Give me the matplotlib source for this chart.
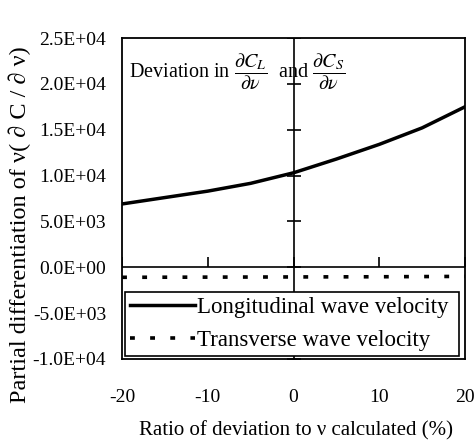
import numpy as np
import matplotlib
matplotlib.use('Agg')
import matplotlib.pyplot as plt

plt.rcParams['font.family'] = ['Liberation Serif', 'DejaVu Serif']
plt.rcParams['mathtext.fontset'] = 'stix'
plt.rcParams['lines.scale_dashes'] = False

# Data
ratio = [-20, -15, -10, -5, 0, 5, 10, 15, 20]
longitudinal = [6900, 7600, 8300, 9150, 10300, 11800, 13400, 15200, 17500]
transverse = [-1100, -1090, -1080, -1070, -1060, -1050, -1040, -1020, -1000]

xticks = [-20, -10, 0, 10, 20]
yticks = [-10000, -5000, 0, 5000, 10000, 15000, 20000, 25000]
ytick_labels = ['-1.0E+04', '-5.0E+03', '0.0E+00', '5.0E+03',
                '1.0E+04', '1.5E+04', '2.0E+04', '2.5E+04']

fig = plt.figure(figsize=(4.75, 4.42), dpi=100)
ax = fig.add_axes([0.257, 0.188, 0.722, 0.726])

ax.set_xlim(-20, 20)
ax.set_ylim(-10000, 25000)
ax.set_xticks(xticks)
ax.set_xticklabels([str(t) for t in xticks])
ax.set_yticks(yticks)
ax.set_yticklabels(ytick_labels)
ax.tick_params(length=0, labelsize=14)
ax.tick_params(axis='y', pad=11.5)
ax.tick_params(axis='x', pad=22)
for s in ax.spines.values():
    s.set_linewidth(1.3)

# axis lines crossing at zero, with their tick marks
ax.axvline(0, color='k', lw=1.2, zorder=1)
ax.axhline(0, color='k', lw=1.2, zorder=1)
ax.plot(np.zeros(len(yticks)), yticks, ls='none', marker='_', ms=10,
        mew=1.2, color='k', zorder=1)
ax.plot(xticks, np.zeros(len(xticks)), ls='none', marker=2, ms=7,
        mew=1.2, color='k', zorder=1)

ax.plot(ratio, longitudinal, color='k', lw=2.5, label='Longitudinal wave velocity', zorder=3)
ax.plot(ratio, transverse, color='k', lw=2.6, dashes=(3.5, 11), label='Transverse wave velocity', zorder=3)

ax.text(0.02, 0.895,
        r'Deviation in $\dfrac{\partial C_L}{\partial \nu}$  and $\dfrac{\partial C_S}{\partial \nu}$',
        transform=ax.transAxes, fontsize=14.5, va='center', ha='left')

leg = ax.legend(loc='lower left', bbox_to_anchor=(0.009, 0.009, 0.973, 0.206),
                mode='expand', borderaxespad=0, fontsize=16.5, handlelength=2.85,
                handletextpad=0.1, labelspacing=0.55, borderpad=0.2,
                fancybox=False, framealpha=1, edgecolor='k')
leg.get_frame().set_linewidth(1.2)
leg.set_zorder(5)

ax.set_xlabel('Ratio of deviation to ν calculated (%)', fontsize=15)
ax.xaxis.set_label_coords(0.507, -0.195)
ax.set_ylabel('Partial differentiation of ν( ∂ C / ∂ ν)', fontsize=17.5)
ax.yaxis.label.set_verticalalignment('center')
ax.yaxis.set_label_coords(-0.297, 0.417)

fig.savefig('out.png', dpi=100)
